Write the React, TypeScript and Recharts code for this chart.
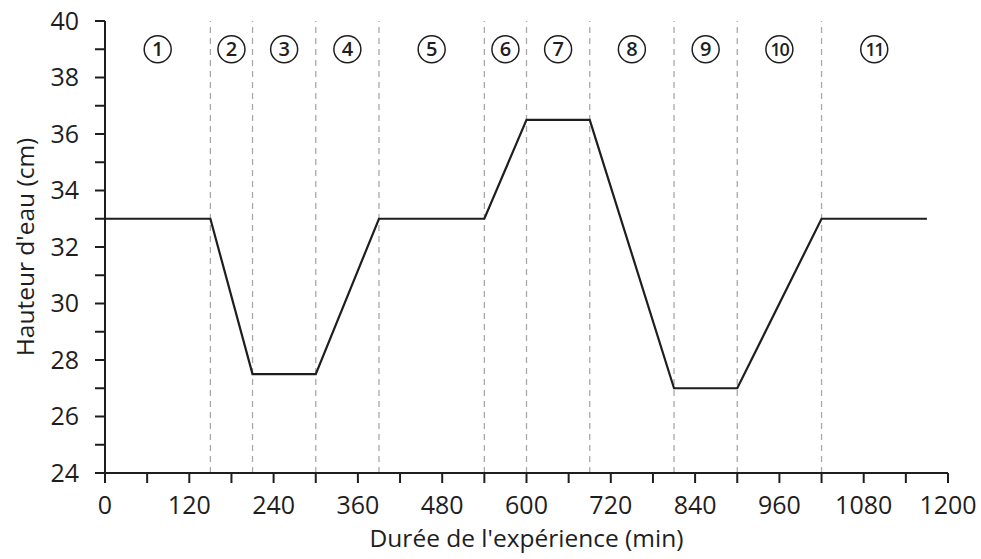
import React from "react";
import {
  LineChart,
  Line,
  XAxis,
  YAxis,
  ReferenceLine,
  ReferenceDot,
  Label,
} from "recharts";

// ---- data ----
const times = [0, 150, 210, 300, 390, 540, 600, 690, 810, 900, 1020, 1170];
const heights = [33, 33, 27.5, 27.5, 33, 33, 36.5, 36.5, 27, 27, 33, 33];
const phaseBoundaries = [150, 210, 300, 390, 540, 600, 690, 810, 900, 1020];
const phaseCenters = [75, 180, 255, 345, 465, 570, 645, 750, 855, 960, 1095];
const phaseLabels = ["1", "2", "3", "4", "5", "6", "7", "8", "9", "10", "11"];
const phaseLabelLevel = 39;
const xTicks = [0, 60, 120, 180, 240, 300, 360, 420, 480, 540, 600, 660, 720, 780, 840, 900, 960, 1020, 1080, 1140, 1200];
const xMajorStep = 120;
const yTicks = [24, 25, 26, 27, 28, 29, 30, 31, 32, 33, 34, 35, 36, 37, 38, 39, 40];
const yMajorStep = 2;
const xTitle = "Durée de l'expérience (min)";
const yTitle = "Hauteur d'eau (cm)";

const data = times.map((t, i) => ({ t, h: heights[i] }));

const FONT = "'Open Sans', 'DejaVu Sans', sans-serif";
const INK = "#1e1e1e";
const TICK_SIZE = 10;
const TICK_FONT = 25;
const TITLE_FONT = 24.5;

const XTick = (props: any) => {
  const { x, y, payload } = props;
  const v = payload.value;
  if (v % xMajorStep !== 0) return <g />;
  return (
    <text x={x} y={y} dy="0.71em" textAnchor="middle" fontFamily={FONT} fontSize={TICK_FONT} fill={INK}>
      {v}
    </text>
  );
};

const YTick = (props: any) => {
  const { x, y, payload } = props;
  const v = payload.value;
  if ((v - yTicks[0]) % yMajorStep !== 0) return <g />;
  return (
    <text x={x} y={y} dy="0.355em" textAnchor="end" fontFamily={FONT} fontSize={TICK_FONT} fill={INK}>
      {v}
    </text>
  );
};

const makePhaseShape = (label: string) => (props: any) => {
  const { cx, cy } = props;
  const two = label.length > 1;
  return (
    <g>
      <circle cx={cx} cy={cy} r={13.5} fill="#fff" stroke={INK} strokeWidth={1.5} />
      <text
        x={cx}
        y={cy}
        dy="0.36em"
        textAnchor="middle"
        fontFamily={FONT}
        fontSize={two ? 18 : 20}
        fontWeight={600}
        letterSpacing={two ? -1.5 : 0}
        fill={INK}
      >
        {label}
      </text>
    </g>
  );
};

const YTitle = (props: any) => {
  const vb = props.viewBox || {};
  const cx = (vb.x || 0) + 24;
  const cy = (vb.y || 0) + (vb.height || 0) / 2;
  return (
    <text
      x={cx}
      y={cy}
      transform={`rotate(-90, ${cx}, ${cy})`}
      textAnchor="middle"
      dominantBaseline="central"
      fontFamily={FONT}
      fontSize={TITLE_FONT}
      fill={INK}
    >
      {yTitle}
    </text>
  );
};

export default function App() {
  return (
    <div style={{ position: "absolute", left: 0, top: 0, width: 981, height: 559, background: "#fff" }}>
      <LineChart width={981} height={559} data={data} margin={{ top: 21, right: 33, bottom: 0, left: 0 }}>
        <XAxis
          dataKey="t"
          type="number"
          domain={[0, 1200]}
          ticks={xTicks}
          interval={0}
          height={86}
          tickSize={TICK_SIZE}
          tickMargin={13}
          tickLine={{ stroke: INK, strokeWidth: 2 }}
          tick={<XTick />}
          axisLine={{ stroke: INK, strokeWidth: 2 }}
        >
          <Label
            value={xTitle}
            position="insideBottom"
            offset={12}
            style={{ fontFamily: FONT, fontSize: TITLE_FONT, fill: INK }}
          />
        </XAxis>
        <YAxis
          type="number"
          domain={[24, 40]}
          ticks={yTicks}
          interval={0}
          width={105}
          tickSize={TICK_SIZE}
          tickMargin={16}
          tickLine={{ stroke: INK, strokeWidth: 2 }}
          tick={<YTick />}
          axisLine={{ stroke: INK, strokeWidth: 2 }}
        >
          <Label content={<YTitle />} />
        </YAxis>
        {phaseBoundaries.map((b) => (
          <ReferenceLine key={b} x={b} stroke="#a8a8a8" strokeWidth={1.3} strokeDasharray="6 5" />
        ))}
        {phaseCenters.map((c, i) => (
          <ReferenceDot
            key={c}
            x={c}
            y={phaseLabelLevel}
            r={13.5}
            shape={makePhaseShape(phaseLabels[i])}
          />
        ))}
        <Line
          type="linear"
          dataKey="h"
          stroke={INK}
          strokeWidth={2.2}
          dot={false}
          isAnimationActive={false}
        />
      </LineChart>
    </div>
  );
}
